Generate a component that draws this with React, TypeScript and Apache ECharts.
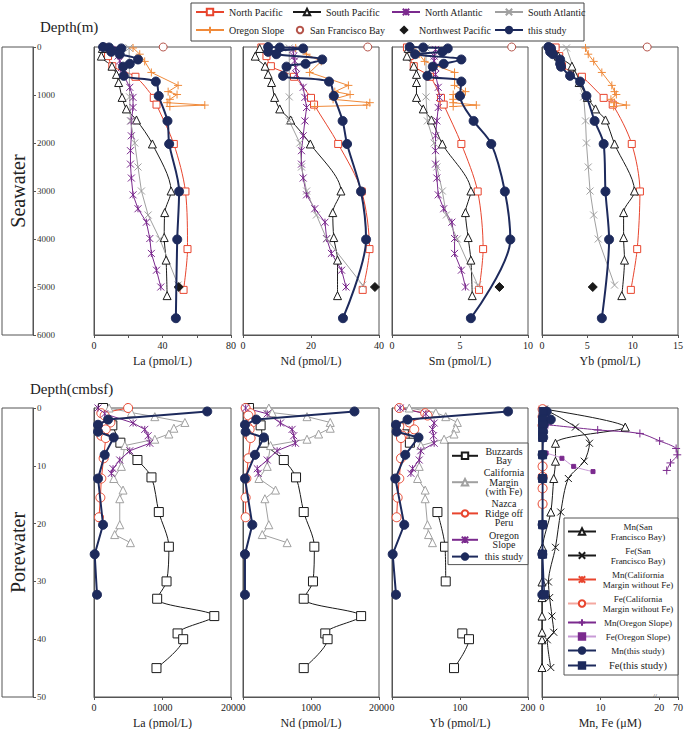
import React, { useEffect, useRef } from 'react';
import * as echarts from 'echarts';

const FONT = '"Liberation Serif", "Times New Roman", serif';
const RED = '#e8452e';
const ORANGE = '#f08a3a';
const PURPLE = '#7b2a8e';
const GREY = '#a0a0a0';
const NAVY = '#1d2a5c';
const BLACK = '#1a1a1a';
const SFB_RED = '#b5544a';
const AX = '#555';

// ---------- Seawater (depth in m) ----------
const npDepth = [10, 190, 400, 620, 1060, 1200, 2020, 3010, 4210, 5060];
const npLa = [5.7, 8.2, 10.7, 24.2, 34.9, 36.5, 46.6, 53.4, 54.6, 52.3];
const npNd = [5.4, 6.9, 8.2, 15.0, 20.0, 20.9, 28.0, 34.9, 37.2, 35.2];
const npSm = [1.1, 1.3, 1.6, 2.8, 3.6, 3.8, 5.1, 6.3, 6.7, 6.4];
const npYb = [1.5, 1.9, 2.2, 4.4, 6.8, 7.8, 9.9, 10.8, 10.5, 9.8];

const spDepth = [30, 190, 400, 570, 740, 1050, 1290, 1520, 2020, 3000, 3450, 3970, 4440, 5180];
const spLa = [4.9, 4.3, 10.5, 13.1, 14.4, 16.4, 18.9, 24.8, 34.1, 45.0, 41.3, 41.0, 42.1, 42.7];
const spNd = [4.9, 3.6, 6.5, 7.4, 8.4, 9.3, 10.8, 14.0, 19.8, 28.8, 26.4, 26.7, 27.8, 27.8];
const spSm = [1.2, 1.1, 1.6, 1.8, 1.8, 1.8, 2.3, 2.9, 3.7, 5.8, 5.4, 5.6, 5.8, 5.9];
const spYb = [1.2, 1.8, 3.3, 3.6, 4.1, 5.0, 5.9, 7.0, 8.0, 10.2, 9.0, 9.0, 9.1, 8.8];

const naDepth = [50, 190, 290, 430, 570, 840, 1050, 1260, 1540, 1850, 2160, 2440, 2730, 3080, 3370, 3650, 3990, 4300, 4650, 5000];
const naLa = [12.1, 14.0, 15.0, 16.0, 17.0, 20.9, 22.8, 22.8, 21.8, 21.8, 21.3, 21.3, 21.8, 22.8, 25.7, 30.6, 32.6, 33.5, 36.5, 39.0];
const naNd = [14.7, 14.9, 15.2, 15.5, 15.7, 17.7, 18.2, 18.7, 18.2, 17.7, 17.2, 17.2, 17.7, 18.7, 21.1, 24.1, 24.6, 26.0, 29.0, 30.3];
const naSm = [3.2, 3.1, 3.1, 3.2, 3.2, 3.4, 3.5, 3.4, 3.3, 3.2, 3.2, 3.2, 3.3, 3.4, 3.8, 4.4, 4.6, 4.6, 5.1, 5.4];

const saDepth = [20, 1040, 1540, 2000, 2500, 3000, 3500, 4000, 4960];
const saLa = [20.5, 20.8, 21.3, 23.8, 25.7, 27.7, 31.6, 38.4, 49.1];
const saNd = [13.6, 13.6, 13.6, 16.7, 17.2, 18.7, 21.6, 24.6, 35.2];
const saSm = [2.5, 2.5, 2.6, 3.1, 3.3, 3.7, 4.0, 4.8, 6.3];
const saYb = [2.7, 4.6, 4.8, 4.9, 5.1, 5.3, 5.7, 6.2, 8.0];

const orDepth = [20, 150, 300, 530, 800, 930, 990, 1090, 1160, 1210, 1240];
const orLa = [22.8, 26.7, 29.6, 33.5, 49.1, 43.3, 48.5, 44.3, 42.7, 64.7, 44.3];
const orNd = [15.5, 18.7, 23.0, 19.6, 31.0, 27.0, 31.5, 26.5, 37.3, 36.4, 21.1];
const orSm = [1.5, 2.0, 2.4, 4.6, 4.6, 5.4, 4.5, 4.5, 4.5, 6.2, 4.5];
const orYb = [4.8, 5.1, 5.7, 6.6, 7.7, 8.0, 8.2, 7.6, 8.0, 9.3, 7.9];

const sfbDepthSw = [0];
const sfbLa = [40.4];
const sfbNd = [36.7];
const sfbSm = [8.8];
const sfbYb = [11.6];

const nwpDepth = [5000];
const nwpLa = [49.5];
const nwpNd = [38.8];
const nwpSm = [7.9];
const nwpYb = [5.6];

const tsDepth = [0, 10, 30, 100, 150, 260, 350, 410, 600, 720, 1020, 1540, 2020, 3010, 4010, 5650];
const tsLa = [5.3, 8.8, 16.0, 10.1, 15.0, 25.7, 20.9, 17.0, 17.4, 36.1, 37.8, 42.9, 43.9, 49.7, 48.6, 47.8];
const tsNd = [7.4, 10.8, 17.7, 7.4, 9.8, 23.3, 18.4, 12.8, 11.8, 25.3, 26.7, 29.3, 30.6, 34.7, 36.2, 29.4];
const tsSm = [1.3, 2.3, 4.1, 3.7, 1.7, 5.1, 3.8, 3.0, 2.6, 5.1, 5.0, 6.0, 7.3, 8.3, 8.7, 5.8];
const tsYb = [0.7, 0.8, 1.0, 0.9, 1.2, 2.0, 2.0, 2.1, 3.1, 4.2, 4.9, 5.8, 6.8, 7.0, 7.4, 6.6];

// ---------- Porewater (depth in cmbsf) ----------
const bbDepth = [0, 3, 6, 9, 12, 18, 24, 30, 33, 36, 39, 40, 45];
const bbLa = [132, 268, 385, 634, 839, 946, 1093, 1059, 922, 1756, 1220, 1302, 912];
const bbNd = [88, 259, 307, 600, 780, 893, 1049, 1029, 893, 1737, 1210, 1244, 893];
const bbYb: (number | string)[] = ['-', 22.9, 26.3, '-', '-', 66.8, 78.0, 79.0, '-', '-', 103.4, 113.2, 91.2];

const cmDepth = [0, 0.8, 1.5, 2.5, 3.5, 4.5, 5.4, 6.5, 10.1, 12.2, 14.2, 15.7, 20.2, 21.9, 23.3];
const cmLa = [220, 546, 888, 1327, 1166, 1093, 888, 450, 400, 288, 424, 376, 376, 302, 532];
const cmNd = [380, 429, 941, 1283, 1283, 1112, 941, 405, 356, 234, 478, 322, 380, 283, 649];
const cmYb = [25.4, 64.4, 79.0, 96.1, 93.7, 91.2, 76.6, 42.4, 40.0, 37.6, 48.8, 48.8, 52.2, 53.7, 59.5];

const nrDepth = [0, 0.9, 1.3, 2.5, 3.2, 3.7, 4.8, 5.2, 8.7, 12.2, 15.5, 18.9];
const nrLa = [498, 107, 156, 239, 132, 171, 107, 171, 141, 107, 93, 73];
const nrNd = [39, 112, 78, 137, 63, 98, 88, 112, 78, 49, 39, 39];
const nrYb = [10.7, 48.8, 52.2, 25.4, 10.7, 32.7, 15.6, 13.2, 13.2, 10.7, 8.3, 6.8];

const osDepth = [0, 1, 2.6, 3.7, 4.8, 6.1, 7.4, 9.0, 10.5, 11.3];
const osLa = [59, 156, 571, 741, 790, 815, 522, 376, 278, 254];
const osNd = [39, 356, 551, 722, 746, 771, 502, 356, 210, 224];
const osYb = [12, 49.8, 62.0, 59.5, 61.0, 62.0, 42.4, 40.0, 30.2, 27.8];

const pwDepth = [0.6, 2.0, 2.9, 4.1, 5.1, 8.1, 12.2, 20.2, 25.3, 32.3];
const pwLa = [1653, 205, 59, 59, 288, 156, 59, 132, 10, 44];
const pwNd = [1639, 195, 29, 39, 307, 176, 29, 137, 29, 29];
const pwYb = [170.7, 22.9, 5.9, 6.8, 39.0, 19.5, 4.9, 18.0, 1.0, 5.9];

// Mn, Fe (µM)
const sfbDepth = [0.2, 3.3, 6.1, 9.2, 12.2, 18.0, 24.1, 30.1, 32.8, 36.0, 38.8, 40.1, 44.9];
const mnSfb = [0.4, 14.2, 2.3, 2.3, 2.0, 1.5, 0.1, 0, 0, 0, 0, 0, 0];
const feSfb = [0.4, 5.7, 8.1, 7.2, 4.5, 3.2, 2.3, 1.1, 1.3, 1.7, 2.0, 0.9, 1.5];
const cmMnDepth = [0.2, 0.8, 1.5, 2.2, 3.0, 3.8, 4.6, 5.2, 10.1, 11.9, 13.9, 16.6];
const mnCm = [0.1, 0.1, 0.05, 0.1, 0.05, 0.1, 0.05, 0.1, 0.05, 0.1, 0.05, 0.1];
const cmFeDepth = [0.2, 1.5, 3.0, 10.1, 11.9, 13.9, 16.6];
const feCm = [0.1, 0.1, 0.1, 0.1, 0.1, 0.1, 0.1];
const mnOsDepth = [2.9, 3.8, 4.4, 5.7, 7.0, 8.1, 9.5, 10.8];
const mnOs = [1.0, 9.5, 16.7, 21, 65, 68, 50, 40];
const feOsDepth = [7.8, 8.7, 10.1, 11.0];
const feOs = [0.7, 3.4, 5.4, 8.7];
const mnTs = [0.8, 1.5, 0.3, 0.2, 0.2, 0.1, 0.1, 0.1, 0.05, 0.05];
const feTs = [0.2, 0.1, 0.1, 0.1, 0.1, 0.1, 0.1, 0.1, 0.1, 0.4];

// tick labels
const swLaTicks = [0, 40, 80];
const swNdTicks = [0, 20, 40];
const swSmTicks = [0, 5, 10];
const swYbTicks = [0, 5, 10, 15];
const pwLaTicks = [0, 1000, 2000];
const pwNdTicks = [0, 1000, 2000];
const pwYbTicks = [0, 100, 200];
const mnFeTicks = [0, 10, 20, 70];
const swDepthTicks = [0, 1000, 2000, 3000, 4000, 5000, 6000];
const pwDepthTicks = [0, 10, 20, 30, 40, 50];

// broken Mn/Fe axis: linear to 20, compressed 20..70
const BREAK = 20;
const K = 3.2 / 50;
const fx = (v: any) => (v === '-' ? '-' : v <= BREAK ? v : BREAK + (v - BREAK) * K);
const XMAX4 = fx(70) as number;

const XSYM = 'path://M0,0L10,10M10,0L0,10';
const STAR = 'path://M0,0L10,10M10,0L0,10M5,0L5,10';
const PLUS = 'path://M5,0L5,10M0,5L10,5';

type St = {
  symbol: string; size: number; line: string; fill: string; stroke: string;
  width?: number; smooth?: number; noLine?: boolean; bw?: number; z?: number;
};

function ser(name: string, grid: number, xs: any[], ds: number[], st: St, tx?: (v: any) => any) {
  return {
    type: 'line', name, xAxisIndex: grid, yAxisIndex: grid,
    data: ds.map((d, i) => [tx ? tx(xs[i]) : xs[i], d]),
    symbol: st.symbol, symbolSize: st.size, showSymbol: true,
    smooth: st.smooth ?? 0, connectNulls: false, clip: false,
    lineStyle: { color: st.line, width: st.width ?? 1, opacity: st.noLine ? 0 : 1 },
    itemStyle: { color: st.fill, borderColor: st.stroke, borderWidth: st.bw ?? 1 },
    emphasis: { disabled: true },
    z: st.z ?? 2,
  };
}

const PX = [94, 243, 392, 542];
const PW = [137, 136, 136, 136];
const TOP1 = 47, H1 = 288, TOP2 = 408, H2 = 289;

function xAx(grid: number, min: number, max: number, interval: number, name: string, ticks: number[]) {
  return {
    gridIndex: grid, type: 'value', min, max, interval, position: 'bottom',
    name, nameLocation: 'middle', nameGap: 20,
    nameTextStyle: { fontFamily: FONT, fontSize: 12, color: '#222' },
    axisLine: { show: true, onZero: false, lineStyle: { color: AX, width: 1 } },
    axisTick: { show: true, length: 3, lineStyle: { color: AX } },
    axisLabel: {
      fontFamily: FONT, fontSize: 10, color: '#222', margin: 5,
      formatter: (v: number) => (ticks.indexOf(Math.round(v)) >= 0 ? String(Math.round(v)) : ''),
    },
    splitLine: { show: false },
  };
}

function yAx(grid: number, max: number, interval: number) {
  return {
    gridIndex: grid, type: 'value', inverse: true, min: 0, max, interval,
    axisLine: { show: true, onZero: false, lineStyle: { color: AX, width: 1 } },
    axisTick: { show: false }, axisLabel: { show: false }, splitLine: { show: false },
  };
}

function depthAx(grid: number, max: number, interval: number, ticks: number[]) {
  return {
    gridIndex: grid, type: 'value', inverse: true, min: 0, max, interval, position: 'left',
    axisLine: { show: true, onZero: false, lineStyle: { color: AX, width: 1 } },
    axisTick: { show: true, inside: true, length: 3, lineStyle: { color: AX } },
    axisLabel: {
      show: true, inside: true, margin: 4, fontFamily: FONT, fontSize: 9, color: '#333',
      formatter: (v: number) => (ticks.indexOf(v) >= 0 ? String(v) : ''),
    },
    splitLine: { show: false },
  };
}

const pw3Lines: Record<string, string[]> = {
  'Buzzards Bay': ['Buzzards', 'Bay'],
  'California Margin (with Fe)': ['California', 'Margin', '(with Fe)'],
  'Nazca Ridge off Peru': ['Nazca', 'Ridge off', 'Peru'],
  'pw:Oregon Slope': ['Oregon', 'Slope'],
  'pw:this study': ['this study'],
};
const mnFeLines: Record<string, string[]> = {
  'Mn(San Francisco Bay)': ['Mn(San', 'Francisco Bay)'],
  'Fe(San Francisco Bay)': ['Fe(San', 'Francisco Bay)'],
  'Mn(California Margin without Fe)': ['Mn(California', 'Margin without Fe)'],
  'Fe(California Margin without Fe)': ['Fe(California', 'Margin without Fe)'],
  'Mn(Oregon Slope)': ['Mn(Oregon Slope)'],
  'Fe(Oregon Slope)': ['Fe(Oregon Slope)'],
  'Mn(this study)': ['Mn(this study)'],
  'Fe(this study)': ['Fe(this study)'],
};

// top legend: [name, left, row, icon width]
const topLegendItems: [string, number, number, number][] = [
  ['North Pacific', 195, 0, 28],
  ['South Pacific', 292, 0, 28],
  ['North Atlantic', 391, 0, 28],
  ['South Atlantic', 494, 0, 28],
  ['Oregon Slope', 195, 1, 28],
  ['San Francisco Bay', 294, 1, 10],
  ['Northwest Pacific', 393, 1, 20],
  ['this study', 494, 1, 28],
];

function buildOption() {
  const grids: any[] = [];
  for (let i = 0; i < 4; i++) grids.push({ left: PX[i], top: TOP1, width: PW[i], height: H1, show: true, borderColor: AX, borderWidth: 1, outerBoundsMode: 'none' });
  grids.push({ left: 33, top: TOP1, width: 1, height: H1, show: false, outerBoundsMode: 'none' });
  for (let i = 0; i < 4; i++) grids.push({ left: PX[i], top: TOP2, width: PW[i], height: H2, show: true, borderColor: AX, borderWidth: 1, outerBoundsMode: 'none' });
  grids.push({ left: 33, top: TOP2, width: 1, height: H2, show: false, outerBoundsMode: 'none' });

  const mnAxis: any = xAx(8, 0, XMAX4, 10, 'Mn, Fe (μM)', mnFeTicks);
  mnAxis.axisLabel = {
    fontFamily: FONT, fontSize: 10, color: '#222', margin: 5,
    customValues: [0, 10, 20, XMAX4],
    formatter: (v: number) => (v > BREAK + 0.5 ? String(mnFeTicks[3]) : String(Math.round(v))),
  };
  mnAxis.axisTick = { show: true, length: 3, lineStyle: { color: AX }, customValues: [0, 10, 20, XMAX4] };

  const xAxis: any[] = [
    xAx(0, 0, 80, 20, 'La (pmol/L)', swLaTicks),
    xAx(1, 0, 40, 20, 'Nd (pmol/L)', swNdTicks),
    xAx(2, 0, 10, 5, 'Sm (pmol/L)', swSmTicks),
    xAx(3, 0, 15, 5, 'Yb (pmol/L)', swYbTicks),
    { gridIndex: 4, type: 'value', show: false, min: 0, max: 1 },
    xAx(5, 0, 2000, 1000, 'La (pmol/L)', pwLaTicks),
    xAx(6, 0, 2000, 1000, 'Nd (pmol/L)', pwNdTicks),
    xAx(7, 0, 200, 100, 'Yb (pmol/L)', pwYbTicks),
    mnAxis,
    { gridIndex: 9, type: 'value', show: false, min: 0, max: 1 },
  ];
  const yAxis: any[] = [
    yAx(0, 6000, 1000), yAx(1, 6000, 1000), yAx(2, 6000, 1000), yAx(3, 6000, 1000),
    depthAx(4, 6000, 1000, swDepthTicks),
    yAx(5, 50, 10), yAx(6, 50, 10), yAx(7, 50, 10), yAx(8, 50, 10),
    depthAx(9, 50, 10, pwDepthTicks),
  ];

  const series: any[] = [];
  const swSets = [
    { np: npLa, sp: spLa, na: naLa, sa: saLa, or: orLa, sfb: sfbLa, nwp: nwpLa, ts: tsLa },
    { np: npNd, sp: spNd, na: naNd, sa: saNd, or: orNd, sfb: sfbNd, nwp: nwpNd, ts: tsNd },
    { np: npSm, sp: spSm, na: naSm, sa: saSm, or: orSm, sfb: sfbSm, nwp: nwpSm, ts: tsSm },
    { np: npYb, sp: spYb, na: null, sa: saYb, or: orYb, sfb: sfbYb, nwp: nwpYb, ts: tsYb },
  ];
  swSets.forEach((s, g) => {
    series.push(ser('North Pacific', g, s.np, npDepth, { symbol: 'rect', size: 7, line: RED, fill: '#fff', stroke: RED, smooth: 0.3 }));
    series.push(ser('South Pacific', g, s.sp, spDepth, { symbol: 'triangle', size: 8, line: BLACK, fill: '#fff', stroke: BLACK, smooth: 0.3 }));
    if (s.na) series.push(ser('North Atlantic', g, s.na, naDepth, { symbol: STAR, size: 7, line: PURPLE, fill: PURPLE, stroke: PURPLE }));
    series.push(ser('South Atlantic', g, s.sa, saDepth, { symbol: XSYM, size: 7, line: GREY, fill: GREY, stroke: GREY }));
    series.push(ser('Oregon Slope', g, s.or, orDepth, { symbol: PLUS, size: 8, line: ORANGE, fill: ORANGE, stroke: ORANGE }));
    series.push(ser('San Francisco Bay', g, s.sfb, sfbDepthSw, { symbol: 'circle', size: 8, line: SFB_RED, fill: '#fff', stroke: SFB_RED, noLine: true }));
    series.push(ser('Northwest Pacific', g, s.nwp, nwpDepth, { symbol: 'diamond', size: 9, line: BLACK, fill: BLACK, stroke: BLACK, noLine: true }));
    series.push(ser('this study', g, s.ts, tsDepth, { symbol: 'circle', size: 9, line: NAVY, fill: NAVY, stroke: NAVY, width: 2, smooth: 0.3, z: 3 }));
  });

  const pwSets = [
    { bb: bbLa, cm: cmLa, nr: nrLa, os: osLa, ts: pwLa },
    { bb: bbNd, cm: cmNd, nr: nrNd, os: osNd, ts: pwNd },
    { bb: bbYb, cm: cmYb, nr: nrYb, os: osYb, ts: pwYb },
  ];
  pwSets.forEach((s, i) => {
    const g = 5 + i;
    series.push(ser('Buzzards Bay', g, s.bb, bbDepth, { symbol: 'rect', size: 9, line: BLACK, fill: '#fff', stroke: BLACK, smooth: 0.3 }));
    series.push(ser('California Margin (with Fe)', g, s.cm, cmDepth, { symbol: 'triangle', size: 8, line: GREY, fill: '#fff', stroke: GREY }));
    series.push(ser('Nazca Ridge off Peru', g, s.nr, nrDepth, { symbol: 'circle', size: 9, line: RED, fill: '#fff', stroke: RED }));
    series.push(ser('pw:Oregon Slope', g, s.os, osDepth, { symbol: STAR, size: 7, line: PURPLE, fill: PURPLE, stroke: PURPLE }));
    series.push(ser('pw:this study', g, s.ts, pwDepth, { symbol: 'circle', size: 9, line: NAVY, fill: NAVY, stroke: NAVY, width: 2, z: 3 }));
  });

  series.push(ser('Mn(San Francisco Bay)', 8, mnSfb, sfbDepth, { symbol: 'triangle', size: 8, line: BLACK, fill: '#fff', stroke: BLACK, smooth: 0.3 }, fx));
  series.push(ser('Fe(San Francisco Bay)', 8, feSfb, sfbDepth, { symbol: XSYM, size: 7, line: BLACK, fill: BLACK, stroke: BLACK, smooth: 0.3 }, fx));
  series.push(ser('Mn(California Margin without Fe)', 8, mnCm, cmMnDepth, { symbol: STAR, size: 7, line: RED, fill: RED, stroke: RED }, fx));
  series.push(ser('Fe(California Margin without Fe)', 8, feCm, cmFeDepth, { symbol: 'circle', size: 9, line: '#f4a8a0', fill: '#fff', stroke: RED }, fx));
  series.push(ser('Mn(Oregon Slope)', 8, mnOs, mnOsDepth, { symbol: PLUS, size: 8, line: PURPLE, fill: PURPLE, stroke: PURPLE, smooth: 0.3 }, fx));
  series.push(ser('Fe(Oregon Slope)', 8, feOs, feOsDepth, { symbol: 'rect', size: 4, line: '#c89ad6', fill: PURPLE, stroke: PURPLE, smooth: 0.3 }, fx));
  series.push(ser('Mn(this study)', 8, mnTs, pwDepth, { symbol: 'circle', size: 9, line: NAVY, fill: NAVY, stroke: NAVY, width: 1.5, z: 3 }, fx));
  series.push(ser('Fe(this study)', 8, feTs, pwDepth, { symbol: 'rect', size: 8, line: NAVY, fill: NAVY, stroke: NAVY, width: 1.5, z: 3 }, fx));

  const legend: any[] = topLegendItems.map(([name, left, row, w]) => ({
    orient: 'vertical', left, top: row === 0 ? 7 : 25, itemWidth: w, itemHeight: 8, padding: 0, selectedMode: false,
    textStyle: { fontFamily: FONT, fontSize: 10, color: '#222' },
    data: [name],
  }));
  legend.push(
    {
      orient: 'vertical', left: 448, top: 443, itemWidth: 26, itemHeight: 8, itemGap: 2,
      padding: [3, 3, 3, 3], backgroundColor: '#fff', borderColor: AX, borderWidth: 1, selectedMode: false,
      data: Object.keys(pw3Lines),
      formatter: (n: string) => pw3Lines[n].map((l) => `{c|${l}}`).join('\n'),
      textStyle: { fontFamily: FONT, fontSize: 10, color: '#222', rich: { c: { width: 42, align: 'center', fontFamily: FONT, fontSize: 10, lineHeight: 9.6 } } },
    },
    {
      orient: 'vertical', left: 564, top: 518, itemWidth: 28, itemHeight: 8, itemGap: 5,
      padding: [4, 3, 4, 3], backgroundColor: '#fff', borderColor: AX, borderWidth: 1, selectedMode: false,
      data: Object.keys(mnFeLines),
      formatter: (n: string) => mnFeLines[n].map((l) => `{${n === 'Fe(this study)' ? 'b' : 'c'}|${l}}`).join('\n'),
      textStyle: {
        fontFamily: FONT, fontSize: 9, color: '#222',
        rich: {
          c: { width: 74, align: 'center', fontFamily: FONT, fontSize: 9, lineHeight: 10 },
          b: { width: 74, align: 'center', fontFamily: FONT, fontSize: 10.5, lineHeight: 11 },
        },
      },
    },
  );

  const graphic: any[] = [
    { type: 'rect', shape: { x: 191, y: 3, width: 393, height: 38 }, style: { fill: 'none', stroke: '#444', lineWidth: 1 }, z: 0 },
    { type: 'text', x: 40, y: 27, style: { text: 'Depth(m)', fontFamily: FONT, fontSize: 15, fill: '#222', verticalAlign: 'middle' } },
    { type: 'text', x: 30, y: 389, style: { text: 'Depth(cmbsf)', fontFamily: FONT, fontSize: 15, fill: '#222', verticalAlign: 'middle' } },
    { type: 'rect', shape: { x: 2, y: TOP1, width: 31, height: H1 }, style: { fill: 'none', stroke: AX, lineWidth: 1 } },
    { type: 'rect', shape: { x: 2, y: TOP2, width: 31, height: H2 }, style: { fill: 'none', stroke: AX, lineWidth: 1 } },
    { type: 'text', x: 18, y: TOP1 + H1 / 2, rotation: Math.PI / 2, style: { text: 'Seawater', fontFamily: FONT, fontSize: 20, fill: '#222', align: 'center', verticalAlign: 'middle' } },
    { type: 'text', x: 18, y: TOP2 + H2 / 2, rotation: Math.PI / 2, style: { text: 'Porewater', fontFamily: FONT, fontSize: 20, fill: '#222', align: 'center', verticalAlign: 'middle' } },
    { type: 'text', x: 655, y: TOP2 + H2 - 1, style: { text: '//', fontFamily: FONT, fontSize: 7, fill: '#333', align: 'center', verticalAlign: 'middle' } },
  ];

  return {
    animation: false,
    backgroundColor: '#fff',
    textStyle: { fontFamily: FONT },
    grid: grids, xAxis, yAxis, series, legend, graphic,
  };
}

export default function App() {
  const ref = useRef<HTMLDivElement>(null);
  useEffect(() => {
    if (!ref.current) return;
    const chart = echarts.init(ref.current, null, { renderer: 'svg', width: 685, height: 729 });
    chart.setOption(buildOption() as any);
    return () => chart.dispose();
  }, []);
  return <div ref={ref} style={{ position: 'absolute', left: 0, top: 0, width: 685, height: 729, background: '#fff' }} />;
}
